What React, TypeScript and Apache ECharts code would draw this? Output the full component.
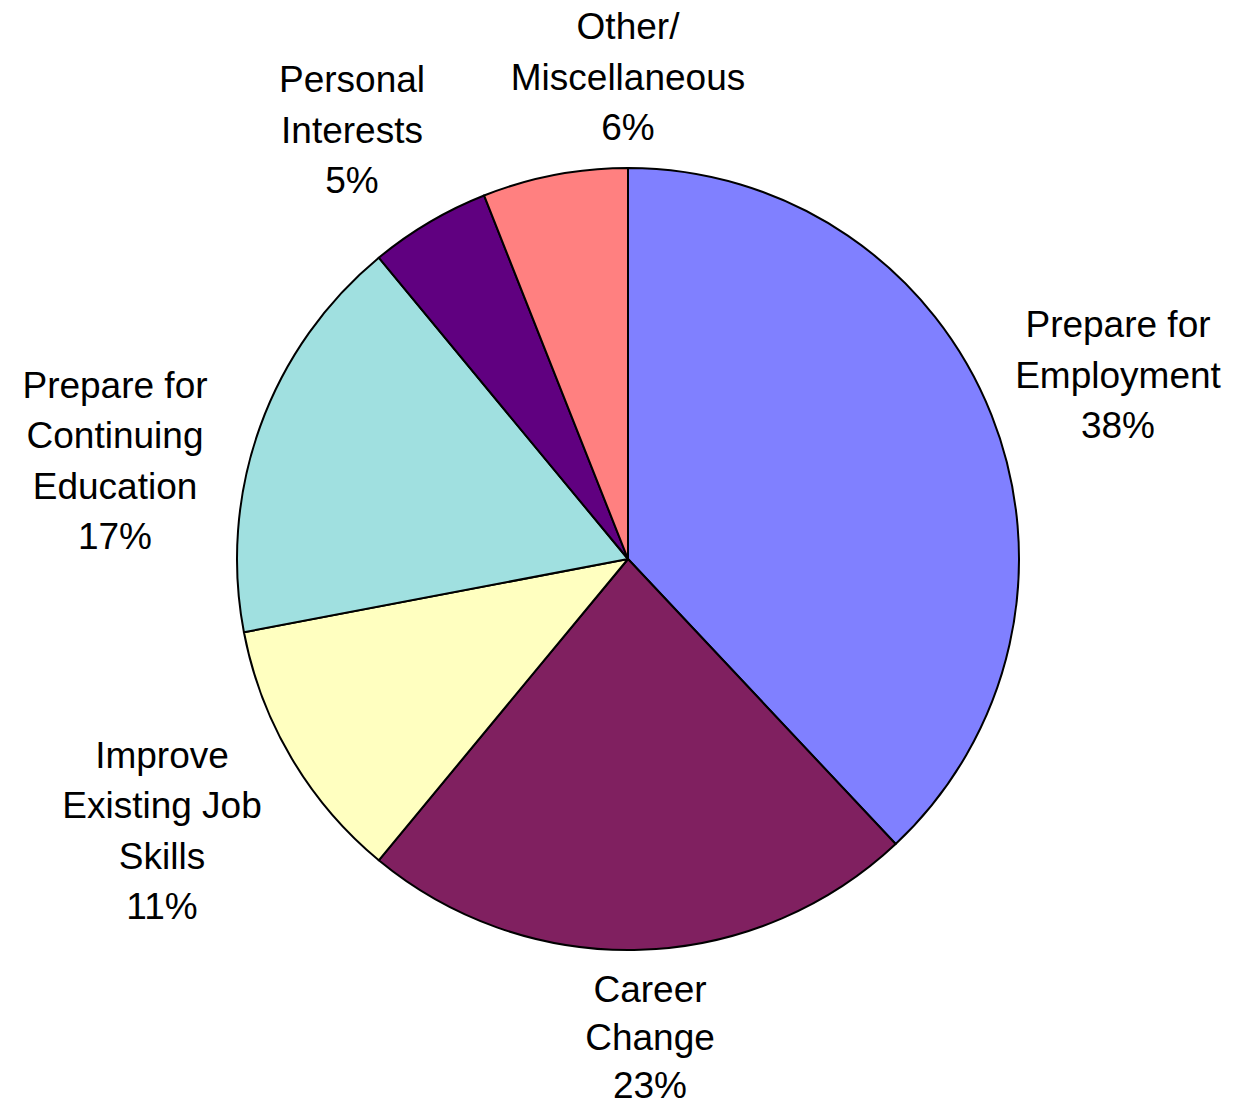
import React, { useEffect, useRef } from "react";
import * as echarts from "echarts";

const categories = [
  "Prepare for\nEmployment",
  "Career\nChange",
  "Improve\nExisting Job\nSkills",
  "Prepare for\nContinuing\nEducation",
  "Personal\nInterests",
  "Other/\nMiscellaneous",
];
const values = [38, 23, 11, 17, 5, 6];
const colors = ["#8080FF", "#802060", "#FFFFC0", "#A0E0E0", "#600080", "#FF8080"];
// label centres and line heights (layout only)
const labelCenters: [number, number][] = [
  [1118, 375],
  [650, 1037],
  [162, 831],
  [115, 461],
  [352, 130],
  [628, 77],
];
const labelLineHeights = [50.5, 48, 50.5, 50.5, 50.5, 50.5];

export default function App() {
  const ref = useRef<HTMLDivElement>(null);
  useEffect(() => {
    document.body.style.margin = "0";
    const chart = echarts.init(ref.current!, null, { renderer: "svg" });
    chart.setOption({
      animation: false,
      backgroundColor: "#ffffff",
      series: [
        {
          type: "pie",
          center: [628, 559],
          radius: 391,
          startAngle: 90,
          clockwise: true,
          data: categories.map((c, i) => ({
            name: c,
            value: values[i],
            itemStyle: { color: colors[i] },
            label: { lineHeight: labelLineHeights[i] },
          })),
          itemStyle: { borderColor: "#000000", borderWidth: 2 },
          label: {
            show: true,
            position: "outside",
            formatter: (p: any) => `${p.name}\n${p.value}%`,
            fontFamily: "Liberation Sans, Arial, sans-serif",
            fontSize: 37,
            lineHeight: 50.5,
            color: "#000000",
            align: "center",
            overflow: "none",
          },
          labelLine: { show: false },
          labelLayout: (params: any) => {
            const c = labelCenters[params.dataIndex];
            return {
              x: c[0],
              y: c[1],
              align: "center",
              verticalAlign: "middle",
            };
          },
          emphasis: { disabled: true },
        },
      ],
    });
    return () => chart.dispose();
  }, []);
  return <div ref={ref} style={{ width: 1236, height: 1110 }} />;
}
